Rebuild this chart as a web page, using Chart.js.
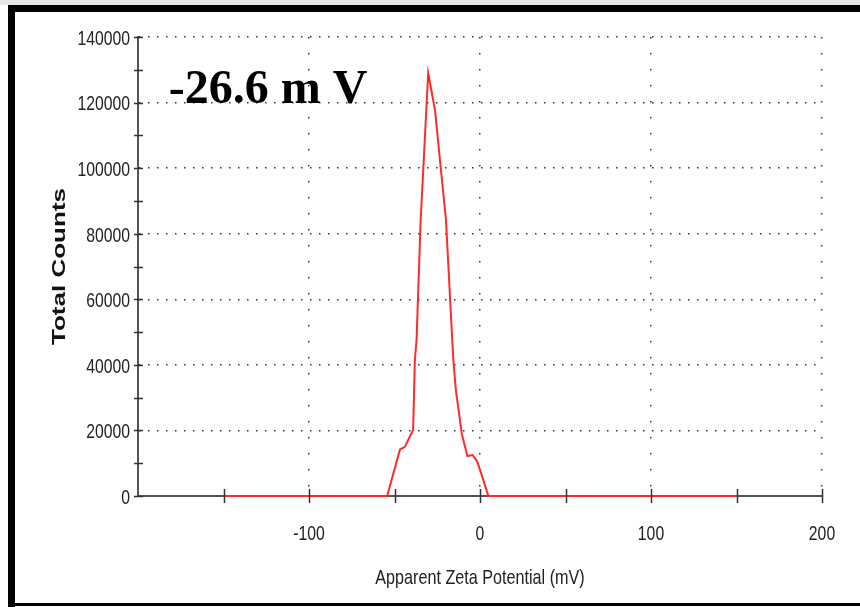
<!DOCTYPE html>
<html>
<head>
<meta charset="utf-8">
<script src="https://cdn.jsdelivr.net/npm/chart.js@4.4.1/dist/chart.umd.min.js"></script>
<style>
  html, body { margin: 0; padding: 0; background: #fff; }
  #wrap { position: relative; width: 860px; height: 607px; }
</style>
</head>
<body>
<div id="wrap"><canvas id="zeta"></canvas></div>
<script>
// zeta potential distribution (mV vs total counts)
const potentialMv = [-150, -54.3, -46.8, -43.9, -40.6, -39.1, -38.1, -37.1, -34.7, -34.1, -30.3,
  -26.3, -23.4, -19.9, -15.6, -14.1, -10.7, -7.4, -4.3, -1.6, 1.0, 4.9, 150];
const totalCounts = [0, 0, 14200, 15000, 18600, 20100, 41500, 47600, 84200, 90200, 129000,
  117700, 102400, 84200, 41500, 32300, 19100, 12200, 12500, 10500, 6400, 0, 0];

const xTickLabels = [-100, 0, 100, 200];
const yTickLabels = [0, 20000, 40000, 60000, 80000, 100000, 120000, 140000];
const xTitle = 'Apparent Zeta Potential (mV)';
const yTitle = 'Total Counts';
const meanLabel = '-26.6 m V';

const sans = "'Liberation Sans', Arial, sans-serif";

const points = potentialMv.map((x, i) => ({x: x, y: totalCounts[i]}));

// text with a horizontal squeeze/stretch (the plot software used a narrow face)
function drawText(ctx, text, x, y, opts) {
  ctx.save();
  ctx.translate(x, y);
  if (opts.rotate) ctx.rotate(opts.rotate);
  ctx.scale(opts.sx || 1, 1);
  ctx.font = opts.font;
  ctx.fillStyle = opts.color || '#222';
  ctx.textAlign = opts.align || 'center';
  ctx.textBaseline = 'middle';
  ctx.fillText(text, 0, 0);
  ctx.restore();
}

// outer frame of the figure
const framePlugin = {
  id: 'frame',
  beforeDraw(chart) {
    const ctx = chart.ctx;
    ctx.save();
    ctx.fillStyle = '#fff';
    ctx.fillRect(0, 0, chart.width, chart.height);
    ctx.fillStyle = '#e6e6e6';
    ctx.fillRect(0, 0, chart.width, 5);
    ctx.fillStyle = '#000';
    ctx.fillRect(8, 5, chart.width - 8, 7);
    ctx.fillRect(8, 5, 7, chart.height - 5);
    ctx.fillRect(8, chart.height - 4, chart.width - 8, 3);
    ctx.restore();
  }
};

// tick marks crossing the axes, tick labels, axis titles and the mean label
const axisPlugin = {
  id: 'axisTicks',
  afterDatasetsDraw(chart) {
    const ctx = chart.ctx;
    const xs = chart.scales.x, ys = chart.scales.y;
    const y0 = ys.getPixelForValue(0);
    const x0 = xs.getPixelForValue(-200);
    ctx.save();
    ctx.strokeStyle = '#333';
    ctx.lineWidth = 1.5;
    ctx.beginPath();
    for (let v = -150; v <= 200; v += 50) {
      const px = Math.round(xs.getPixelForValue(v)) + 0.5;
      ctx.moveTo(px, y0 - 7);
      ctx.lineTo(px, y0 + 7);
    }
    for (let v = 0; v <= 140000; v += 10000) {
      const py = Math.round(ys.getPixelForValue(v)) + 0.5;
      ctx.moveTo(x0 - 4, py);
      ctx.lineTo(x0 + 5, py);
    }
    ctx.stroke();
    ctx.restore();

    const tickFont = '21px ' + sans;
    xTickLabels.forEach(v => {
      drawText(ctx, String(v), xs.getPixelForValue(v), y0 + 38, {font: tickFont, sx: 0.75});
    });
    yTickLabels.forEach(v => {
      drawText(ctx, String(v), x0 - 8, ys.getPixelForValue(v) + 2, {font: tickFont, sx: 0.75, align: 'right'});
    });
    drawText(ctx, xTitle, (chart.chartArea.left + chart.chartArea.right) / 2, 578,
      {font: '21px ' + sans, sx: 0.77});
    drawText(ctx, yTitle, 60, (chart.chartArea.top + chart.chartArea.bottom) / 2,
      {font: 'bold 19px ' + sans, sx: 1.37, rotate: -Math.PI / 2, color: '#111'});

    ctx.save();
    ctx.fillStyle = '#000';
    ctx.font = "bold 48px 'Liberation Serif', 'Times New Roman', serif";
    ctx.textBaseline = 'alphabetic';
    ctx.textAlign = 'left';
    ctx.fillText(meanLabel, xs.getPixelForValue(-182), ys.getPixelForValue(120000));
    ctx.restore();
  }
};

new Chart(document.getElementById('zeta'), {
  type: 'line',
  data: {
    datasets: [{
      data: points,
      borderColor: '#ff2a2a',
      borderWidth: 2,
      pointRadius: 0,
      tension: 0,
      fill: false,
      clip: false
    }]
  },
  options: {
    responsive: true,
    maintainAspectRatio: false,
    animation: false,
    layout: { padding: { left: 0, top: 37, right: 38, bottom: 0 } },
    plugins: { legend: { display: false }, tooltip: { enabled: false } },
    scales: {
      x: {
        type: 'linear',
        min: -200,
        max: 200,
        afterFit(scale) { scale.height = 111; },
        afterBuildTicks(scale) {
          scale.ticks = [];
          for (let v = -200; v <= 200; v += 50) scale.ticks.push({value: v});
        },
        ticks: { display: false },
        grid: {
          drawTicks: false,
          lineWidth: 1.5,
          color: ctx => (ctx.tick && xTickLabels.includes(ctx.tick.value)) ? '#333' : 'transparent'
        },
        border: { display: true, color: '#555', width: 2, dash: [1.5, 14.5] }
      },
      y: {
        type: 'linear',
        min: 0,
        max: 140000,
        afterFit(scale) { scale.width = 138; },
        afterBuildTicks(scale) {
          scale.ticks = [];
          for (let v = 0; v <= 140000; v += 10000) scale.ticks.push({value: v});
        },
        ticks: { display: false },
        grid: {
          drawTicks: false,
          lineWidth: 1.5,
          color: ctx => (ctx.tick && ctx.tick.value > 0 && yTickLabels.includes(ctx.tick.value)) ? '#333' : 'transparent'
        },
        border: { display: true, color: '#555', width: 2, dash: [1.5, 7.5] }
      }
    }
  },
  plugins: [framePlugin, axisPlugin]
});
</script>
</body>
</html>
